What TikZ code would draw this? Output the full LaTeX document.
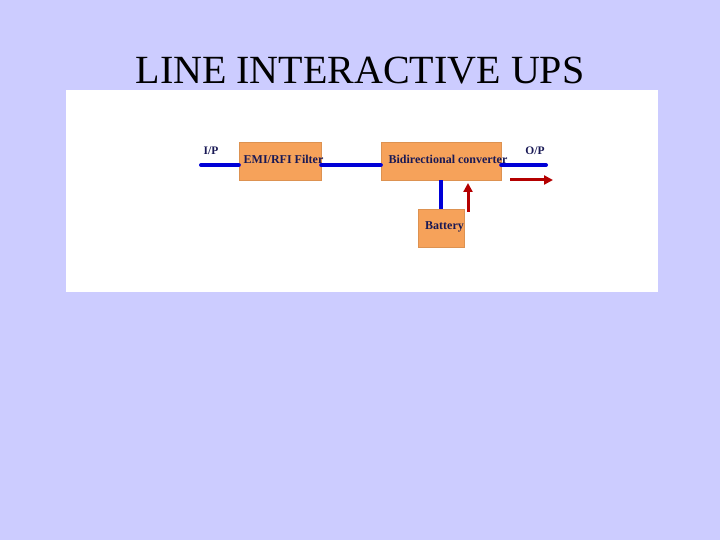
\documentclass[tikz,border=0pt]{standalone}
\usepackage{fontspec}
\setmainfont{Liberation Serif}
\usepackage{tikz}
\usetikzlibrary{arrows.meta}

\definecolor{slidebg}{RGB}{204,204,255}
\definecolor{boxfill}{RGB}{246,162,90}
\definecolor{wireblue}{RGB}{0,0,215}
\definecolor{flowred}{RGB}{180,0,0}
\definecolor{labelink}{RGB}{25,25,85}

\tikzset{
  block/.style={fill=boxfill,draw=boxfill!90!black,line width=0.3pt,inner sep=0pt},
  blocktext/.style={font=\bfseries\fontsize{12}{13}\selectfont,text=labelink,inner sep=0pt},
  wire/.style={wireblue,line width=4pt,line cap=round},
  flow/.style={flowred,line width=3pt,-{Triangle[length=9pt,width=9pt]}}
}

\begin{document}
\begin{tikzpicture}[x=1pt,y=-1pt]
 \fill[slidebg] (0,0) rectangle (720,540);
 \useasboundingbox (0,0) rectangle (720,540);
 \fill[white] (66,90) rectangle (658,292);
 \node[font=\fontsize{40}{44}\selectfont,anchor=base] (title) at (360,84) {LINE INTERACTIVE UPS};
 % blocks
 \node[block,minimum width=82pt,minimum height=38pt] (filter) at (280,161) {};
 \node[block,minimum width=120pt,minimum height=38pt] (conv) at (441,161) {};
 \node[block,minimum width=46pt,minimum height=38pt] (batt) at (441,228.5) {};
 % terminals
 \coordinate (ip) at (201,165);
 \coordinate (op) at (546,165);
 % wiring
 \draw[wire] (ip) -- (filter.west |- ip);
 \draw[wire] (filter.east |- ip) -- (conv.west |- ip);
 \draw[wire] (conv.east |- ip) -- (op);
 \draw[wire,line cap=butt] (conv.south) -- (batt.north);
 % labels
 \node[blocktext] (filtertxt) at (283.5,159) {EMI/RFI Filter};
 \node[blocktext] (convtxt) at (448,159) {Bidirectional converter};
 \node[blocktext] (batttxt) at (444.5,227) {Battery};
 \node[blocktext,font=\bfseries\fontsize{11.5}{12}\selectfont] (iplbl) at (211,151) {I/P};
 \node[blocktext,font=\bfseries\fontsize{11.5}{12}\selectfont] (oplbl) at (535,151) {O/P};
 % power flow
 \coordinate (upfrom) at (468,212);
 \coordinate (upto) at (468,183);
 \coordinate (outfrom) at (510,180);
 \coordinate (outto) at (553,180);
 \draw[flow] (upfrom) -- (upto);
 \draw[flow] (outfrom) -- (outto);
\end{tikzpicture}
\end{document}
